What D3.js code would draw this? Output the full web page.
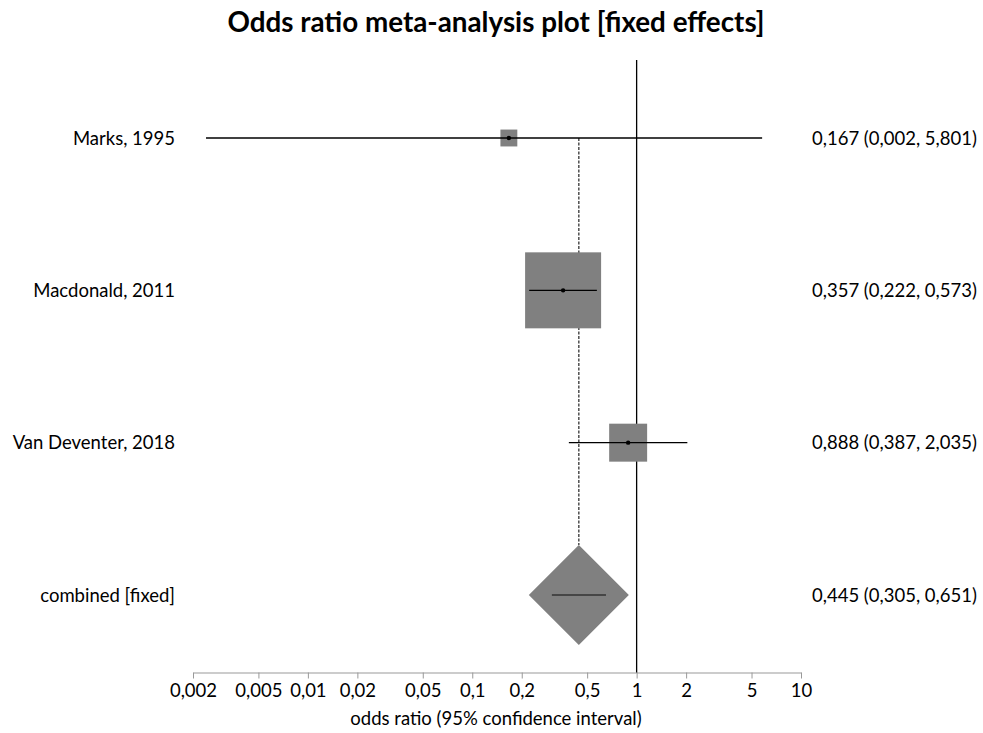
<!DOCTYPE html>
<html>
<head>
<meta charset="utf-8">
<script src="https://cdn.jsdelivr.net/npm/d3@7"></script>
<style>
  html, body { margin: 0; padding: 0; background: #fff; }
  svg { display: block; }
  text { font-family: Lato, "Open Sans", sans-serif; fill: #000; }
</style>
</head>
<body>
<script>
// Study rows of the forest plot
const studies = ["Marks, 1995", "Macdonald, 2011", "Van Deventer, 2018"];
const oddsRatio = [0.167, 0.357, 0.888];
const ciLower = [0.0024, 0.222, 0.387];
const ciUpper = [5.801, 0.573, 2.035];
const weightPct = [3.8, 76.9, 19.2];

// Pooled (fixed effects) estimate
const pooledLabel = "combined [fixed]";
const pooledOR = 0.445;
const pooledLower = 0.305;
const pooledUpper = 0.651;

// Axis ticks
const tickValues = [0.002, 0.005, 0.01, 0.02, 0.05, 0.1, 0.2, 0.5, 1, 2, 5, 10];

const W = 983, H = 733;
const svg = d3.select("body").append("svg").attr("width", W).attr("height", H);

const fmt = v => (Math.round(v * 1000) / 1000).toFixed(3).replace(".", ",");
const tickFmt = v => String(v).replace(".", ",");
const labelSize = "18.5px";

const x = d3.scaleLog().domain([0.002, 10]).range([193, 801]);
const rows = studies.concat([pooledLabel]);
const y = d3.scalePoint().domain(rows).range([138, 595]);
const side = d3.scaleSqrt().domain([0, d3.max(weightPct)]).range([0, 76]);

// Title
svg.append("text")
  .attr("x", 496).attr("y", 32)
  .attr("text-anchor", "middle")
  .style("font-size", "27.8px").style("font-weight", "bold")
  .text("Odds ratio meta-analysis plot [fixed effects]");

// Axis
const axisY = 672.5;
const axis = svg.append("g")
  .attr("transform", `translate(0,${axisY})`)
  .call(d3.axisBottom(x).tickValues(tickValues).tickFormat(tickFmt).tickSize(6).tickSizeOuter(0));
axis.select(".domain").attr("stroke", "#999");
axis.selectAll(".tick line").attr("stroke", "#999");
axis.selectAll(".tick text")
  .attr("dy", "0")
  .attr("y", 24)
  .style("font-family", "Lato, 'Open Sans', sans-serif")
  .style("font-size", labelSize).attr("fill", "#000");

svg.append("text")
  .attr("x", 496).attr("y", 725)
  .attr("text-anchor", "middle")
  .style("font-size", labelSize)
  .text("odds ratio (95% confidence interval)");

// Line of no effect
svg.append("line")
  .attr("x1", x(1)).attr("x2", x(1))
  .attr("y1", 60).attr("y2", axisY)
  .attr("stroke", "#000").attr("stroke-width", 1.3);

// Pooled estimate reference line (dashed)
const dH = 50;
svg.append("line")
  .attr("x1", x(pooledOR)).attr("x2", x(pooledOR))
  .attr("y1", y(studies[0])).attr("y2", y(pooledLabel) - dH)
  .attr("stroke", "#333").attr("stroke-width", 1.3)
  .attr("stroke-dasharray", "3,1.5");

// Study rows
studies.forEach((s, i) => {
  const cy = y(s);
  const cx = x(oddsRatio[i]);
  const sd = side(weightPct[i]);
  svg.append("rect")
    .attr("x", cx - sd / 2).attr("y", cy - sd / 2)
    .attr("width", sd).attr("height", sd)
    .attr("fill", "#808080");
  svg.append("line")
    .attr("x1", x(ciLower[i])).attr("x2", x(ciUpper[i]))
    .attr("y1", cy).attr("y2", cy)
    .attr("stroke", "#000").attr("stroke-width", 1.3);
  svg.append("circle")
    .attr("cx", cx).attr("cy", cy).attr("r", 2.2).attr("fill", "#000");
  svg.append("text")
    .attr("x", 175).attr("y", cy + 6.5)
    .attr("text-anchor", "end").style("font-size", labelSize)
    .text(s);
  svg.append("text")
    .attr("x", 812).attr("y", cy + 6.5)
    .style("font-size", labelSize)
    .text(`${fmt(oddsRatio[i])} (${fmt(ciLower[i])}, ${fmt(ciUpper[i])})`);
});

// Pooled diamond
const py = y(pooledLabel), px = x(pooledOR);
const dW = 50;
svg.append("path")
  .attr("d", `M${px},${py - dH} L${px + dW},${py} L${px},${py + dH} L${px - dW},${py} Z`)
  .attr("fill", "#808080");
svg.append("line")
  .attr("x1", x(pooledLower)).attr("x2", x(pooledUpper))
  .attr("y1", py).attr("y2", py)
  .attr("stroke", "#333").attr("stroke-width", 1.3);
svg.append("text")
  .attr("x", 175).attr("y", py + 6.5)
  .attr("text-anchor", "end").style("font-size", labelSize)
  .text(pooledLabel);
svg.append("text")
  .attr("x", 812).attr("y", py + 6.5)
  .style("font-size", labelSize)
  .text(`${fmt(pooledOR)} (${fmt(pooledLower)}, ${fmt(pooledUpper)})`);
</script>
</body>
</html>
